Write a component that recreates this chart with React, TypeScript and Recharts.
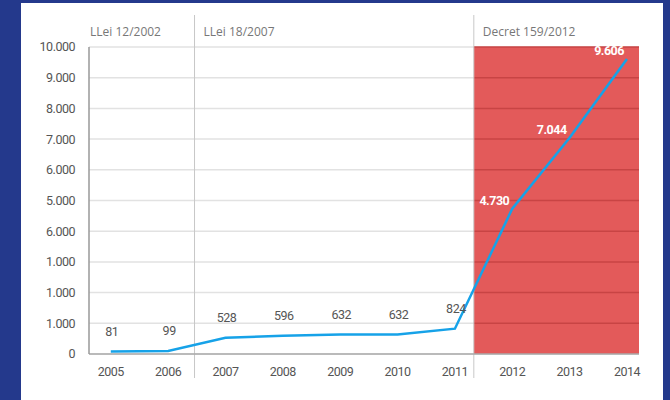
import React from "react";
import {
  CartesianGrid,
  LabelList,
  Line,
  LineChart,
  ReferenceArea,
  ReferenceLine,
  XAxis,
  YAxis,
} from "recharts";

// convocatòries per any
const years = [2005, 2006, 2007, 2008, 2009, 2010, 2011, 2012, 2013, 2014];
const totals = [81, 99, 528, 596, 632, 632, 824, 4730, 7044, 9606];

// y ticks, labels as printed in the source (sic)
const yTicks = [0, 1000, 2000, 3000, 4000, 5000, 6000, 7000, 8000, 9000, 10000];
const yTickLabels = ["0", "1.000", "1.000", "1.000", "6.000", "5.000", "6.000", "7.000", "8.000", "9.000", "10.000"];

// legal periods
const periodNames = ["LLei 12/2002", "LLei 18/2007", "Decret 159/2012"];
const periodStarts = [2004.62, 2006.46, 2011.33];
const xDomain = [2004.62, 2014.21];

const data = years.map((year, i) => ({ year, total: totals[i] }));

const narrow = "Roboto, sans-serif";
const headFont = "'Open Sans', sans-serif";

const fmt = (v: number) =>
  v >= 1000 ? `${Math.floor(v / 1000)}.${String(v % 1000).padStart(3, "0")}` : String(v);

const ValueLabel = (props: any) => {
  const { x, y, value, index } = props;
  if (years[index] >= 2012) {
    return (
      <text x={x - 3} y={y - 4} textAnchor="end" fill="#fff" fontWeight="bold" fontSize={12.5}
        letterSpacing={-0.5} fontFamily={narrow}>
        {fmt(value)}
      </text>
    );
  }
  return (
    <text x={x + 1} y={y - 16} textAnchor="middle" fill="#555" fontSize={12.5} letterSpacing={-0.5}
      fontFamily={narrow}>
      {fmt(value)}
    </text>
  );
};

function App() {
  const tickStyle = { fill: "#555", fontSize: 12.5, fontFamily: narrow, letterSpacing: -0.5 };
  return (
    <div style={{ position: "absolute", left: 0, top: 0, width: 670, height: 400, background: "#24398c" }}>
      <div style={{ position: "absolute", left: 21, top: 3, width: 642, height: 397, background: "#fff" }} />
      <div style={{ position: "absolute", left: 0, top: 0 }}>
        <LineChart width={670} height={400} data={data} margin={{ top: 47, right: 31, bottom: 16, left: 29 }}>
          <CartesianGrid vertical={false} stroke="#e2e2e2" strokeWidth={1.5} />
          <ReferenceArea
            x1={periodStarts[2]}
            x2={xDomain[1]}
            y1={0}
            y2={10000}
            fill="#e35a5a"
            fillOpacity={1}
            stroke="none"
          />
          {yTicks.slice(1).map((t) => (
            <ReferenceLine
              key={t}
              segment={[
                { x: periodStarts[2], y: t },
                { x: xDomain[1], y: t },
              ]}
              stroke="#c84444"
              strokeWidth={1.5}
            />
          ))}
          {periodStarts.map((start, i) => (
            <ReferenceLine
              key={periodNames[i]}
              x={start}
              stroke="#c8c8c8"
              shape={(p: any) => {
                const top = Math.min(p.y1, p.y2);
                const bottom = Math.max(p.y1, p.y2);
                return (
                  <g>
                    {i > 0 && (
                      <line x1={p.x1} y1={top - 32} x2={p.x2} y2={bottom + 24} stroke="#c8c8c8" strokeWidth={1} />
                    )}
                    <text x={p.x1 + (i > 0 ? 9 : 1)} y={top - 11} fill="#777" fontSize={12} fontFamily={headFont}>
                      {periodNames[i]}
                    </text>
                  </g>
                );
              }}
            />
          ))}
          <XAxis
            dataKey="year"
            type="number"
            domain={xDomain}
            ticks={years}
            tickLine={false}
            tickMargin={7}
            axisLine={{ stroke: "#aaa", strokeWidth: 1.5 }}
            tick={tickStyle}
          />
          <YAxis
            width={60}
            domain={[0, 10000]}
            ticks={yTicks}
            interval={0}
            tickLine={false}
            tickMargin={8}
            axisLine={{ stroke: "#999", strokeWidth: 1.5 }}
            tickFormatter={(v: number) => yTickLabels[yTicks.indexOf(v)]}
            tick={tickStyle}
          />
          <Line
            type="linear"
            dataKey="total"
            stroke="#16a2e8"
            strokeWidth={2.5}
            dot={false}
            isAnimationActive={false}
          >
            <LabelList dataKey="total" content={ValueLabel} />
          </Line>
        </LineChart>
      </div>
    </div>
  );
}

export default App;
